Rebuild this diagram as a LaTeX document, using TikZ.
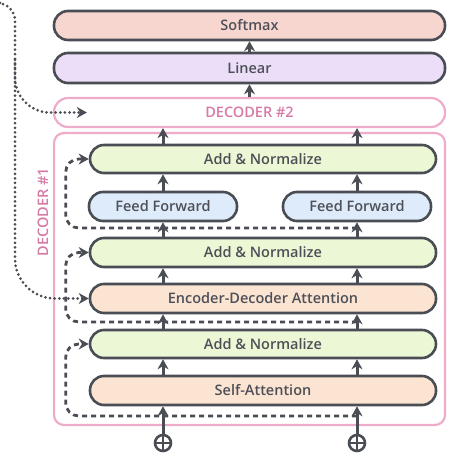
\documentclass[tikz,border=0pt]{standalone}
\usepackage{fontspec}
\setmainfont{Open Sans}[UprightFont=* Semibold]
\usetikzlibrary{arrows.meta}
\definecolor{boxline}{RGB}{74,77,84}
\definecolor{txt}{RGB}{78,80,88}
\definecolor{softc}{RGB}{248,214,208}
\definecolor{linc}{RGB}{236,222,248}
\definecolor{addc}{RGB}{236,247,214}
\definecolor{ffc}{RGB}{222,235,250}
\definecolor{attc}{RGB}{252,228,210}
\definecolor{pinkline}{RGB}{238,172,202}
\definecolor{pinktxt}{RGB}{214,122,166}
\tikzset{
  blk/.style={draw=boxline, line width=2.6pt, rounded corners=14pt, minimum height=29pt, inner sep=0pt, text=txt},
  pinkblk/.style={draw=pinkline, line width=2.2pt, inner sep=0pt},
  arr/.style={->, draw=boxline, line width=3pt},
  res/.style={->, draw=boxline, line width=2.8pt, dash pattern=on 5pt off 4pt, rounded corners=13pt},
  dots/.style={->, draw=boxline, line width=3pt, line cap=round, dash pattern=on 0pt off 4.6pt}
}
\begin{document}
\begin{tikzpicture}[x=1pt, y=-1pt, font=\fontsize{14.5}{17}\selectfont, line join=round, >={Stealth[length=10pt,width=11pt]}]
\useasboundingbox (0,0) rectangle (462,470);
% outer blocks
\node[blk, fill=softc, minimum width=391pt] (softmax) at (249.5,25.5) {Softmax};
\node[blk, fill=linc, minimum width=391pt, minimum height=30pt] (linear) at (249.5,68) {Linear};
\node[pinkblk, rounded corners=14pt, minimum width=391pt, minimum height=29pt, text=pinktxt] (dec2) at (249.5,112.5) {DECODER \#2};
\node[pinkblk, rounded corners=10pt, minimum width=391pt, minimum height=292pt] (dec1) at (249.5,279) {};
\node[text=pinktxt, rotate=90] (dec1lbl) at (43,212) {DECODER \#1};
% inner blocks
\node[blk, fill=addc, minimum width=346pt, minimum height=28pt] (addnorm1) at (263,159) {Add \& Normalize};
\node[blk, fill=ffc, minimum width=148pt] (ffl) at (163,206.5) {Feed Forward};
\node[blk, fill=ffc, minimum width=148pt] (ffr) at (357,206.5) {Feed Forward};
\node[blk, fill=addc, minimum width=346pt] (addnorm2) at (263,252.5) {Add \& Normalize};
\node[blk, fill=attc, minimum width=346pt] (eda) at (263,298.5) {Encoder-Decoder Attention};
\node[blk, fill=addc, minimum width=346pt, minimum height=28pt] (addnorm3) at (263,344) {Add \& Normalize};
\node[blk, fill=attc, minimum width=346pt] (selfatt) at (263,390.5) {Self-Attention};
% inputs
\foreach \c/\x in {in1/163, in2/357} {
  \node[draw=boxline, circle, line width=2.6pt, minimum size=16pt, inner sep=0pt] (\c) at (\x,443) {};
  \draw[boxline, line width=2.6pt] (\c.north) -- (\c.south) (\c.west) -- (\c.east);
  \draw[arr] (\c) -- (\c |- selfatt.south);
  \draw[arr] (\c |- selfatt.north) -- (\c |- addnorm3.south);
  \draw[arr] (\c |- addnorm3.north) -- (\c |- eda.south);
  \draw[arr] (\c |- eda.north) -- (\c |- addnorm2.south);
  \draw[arr] (\c |- addnorm2.north) -- (\c |- ffl.south);
  \draw[arr] (\c |- ffl.north) -- (\c |- addnorm1.south);
  \draw[arr] (\c |- addnorm1.north) -- (\c |- dec2.south);
}
\draw[arr] (dec2.north) -- (linear.south);
\draw[arr] (linear.north) -- (softmax.south);
% residuals
\coordinate (r1) at (357,416);
\coordinate (r2) at (357,322);
\coordinate (r3) at (357,228);
\draw[res] (r1) -| ([xshift=-23pt]addnorm3.west) -- (addnorm3.west);
\draw[res] (r2) -| ([xshift=-23pt]addnorm2.west) -- (addnorm2.west);
\draw[res] (r3) -| ([xshift=-23pt]addnorm1.west) -- (addnorm1.west);
% encoder output
\coordinate (enc) at (0,3);
\coordinate (split) at (15,60);
\draw[dots] (enc) [rounded corners=18pt] -| (15,150) [rounded corners=40pt] |- (eda.west);
\draw[dots, rounded corners=35pt] (split) |- ([xshift=34pt]dec2.west);
\end{tikzpicture}
\end{document}
